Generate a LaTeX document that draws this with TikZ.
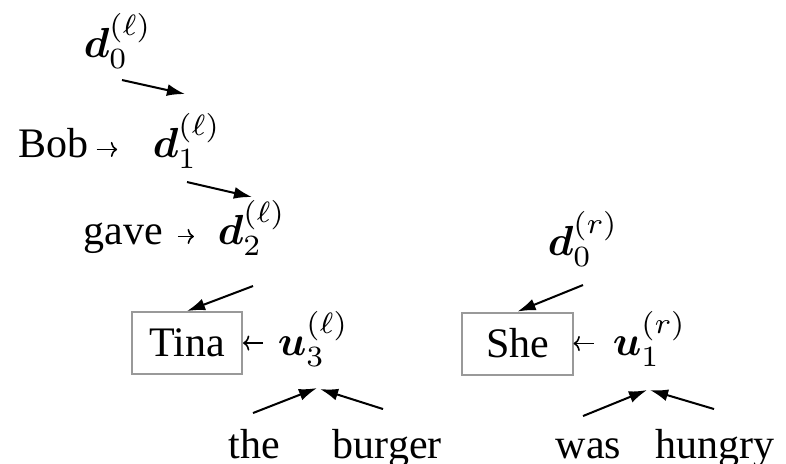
\documentclass[tikz,border=0pt]{standalone}
\usepackage{amsmath}
\usepackage{bm}
\usepackage[no-math]{fontspec}
\setmainfont{Liberation Serif}
\usetikzlibrary{arrows.meta,calc}
\begin{document}
\begin{tikzpicture}[x=0.238pt,y=-0.238pt,
  txt/.style={anchor=base west,inner sep=0pt,font=\normalsize},
  wbox/.style={draw=gray!80,line width=0.48pt,minimum width=26.2pt,minimum height=14.75pt,
    inner sep=0pt,font=\normalsize},
  bigarr/.style={-{Latex[length=4.3pt,width=2.85pt]},line width=0.48pt},
  smallarr/.style={-{To[length=1.5pt,width=3.6pt]},line width=0.38pt}]
\useasboundingbox (0,0) rectangle (786,463);
% nodes
\node[txt] (d0l) at (83,57) {$\bm{d}_0^{(\ell)}$};
\node[txt] (bob) at (18,157) {Bob};
\node[txt] (d1l) at (152,157) {$\bm{d}_1^{(\ell)}$};
\node[txt] (gave) at (83,244) {gave};
\node[txt] (d2l) at (217,244) {$\bm{d}_2^{(\ell)}$};
\node[wbox] (tina) at (187,343) {Tina};
\node[txt] (u3) at (277,355) {$\bm{u}_3^{(\ell)}$};
\node[txt] (the) at (228,458) {the};
\node[txt] (burger) at (332,458) {burger};
\node[txt] (d0r) at (547,255) {$\bm{d}_0^{(r)}$};
\node[wbox] (she) at (517.5,343.5) {She};
\node[txt] (u1) at (612,355) {$\bm{u}_1^{(r)}$};
\node[txt] (was) at (555,458) {was};
\node[txt] (hungry) at (655,458) {hungry};
% connector end points
\path (d0l.base west) ++(39,23) coordinate (a1s);
\path (d1l.base west) ++(33,-63) coordinate (a1e);
\path (d1l.base west) ++(35,25) coordinate (a2s);
\path (d2l.base west) ++(35,-47) coordinate (a2e);
\path (d2l.base west) ++(36,42) coordinate (a3s);
\path (d0r.base west) ++(36,30) coordinate (a4s);
\path (the.base west) ++(25,-45) coordinate (b1s);
\path (u3.base west) ++(40,33) coordinate (b1e);
\path (burger.base west) ++(51,-49) coordinate (b2s);
\path (u3.base west) ++(43,34) coordinate (b2e);
\path (was.base west) ++(28,-42) coordinate (b3s);
\path (u1.base west) ++(35,35) coordinate (b3e);
\path (hungry.base west) ++(59,-49) coordinate (b4s);
\path (u1.base west) ++(38,35) coordinate (b4e);
% big arrows
\draw[bigarr] (a1s) -- (a1e);
\draw[bigarr] (a2s) -- (a2e);
\draw[bigarr] (a3s) -- (tina.north);
\draw[bigarr] (a4s) -- (she.north);
\draw[bigarr] (b1s) -- (b1e);
\draw[bigarr] (b2s) -- (b2e);
\draw[bigarr] (b3s) -- (b3e);
\draw[bigarr] (b4s) -- (b4e);
% small arrows
\draw[smallarr,shorten <=1.67pt,shorten >=8.3pt] ([yshift=1.8pt]bob.base east) -- ([yshift=1.8pt]d1l.base west);
\draw[smallarr,shorten <=3.3pt,shorten >=5.5pt] ([yshift=1.8pt]gave.base east) -- ([yshift=1.8pt]d2l.base west);
\draw[smallarr,shorten <=3.3pt] (u3.west |- tina.east) -- (tina.east);
\draw[smallarr,shorten <=4.3pt] (u1.west |- she.east) -- (she.east);
\end{tikzpicture}
\end{document}
